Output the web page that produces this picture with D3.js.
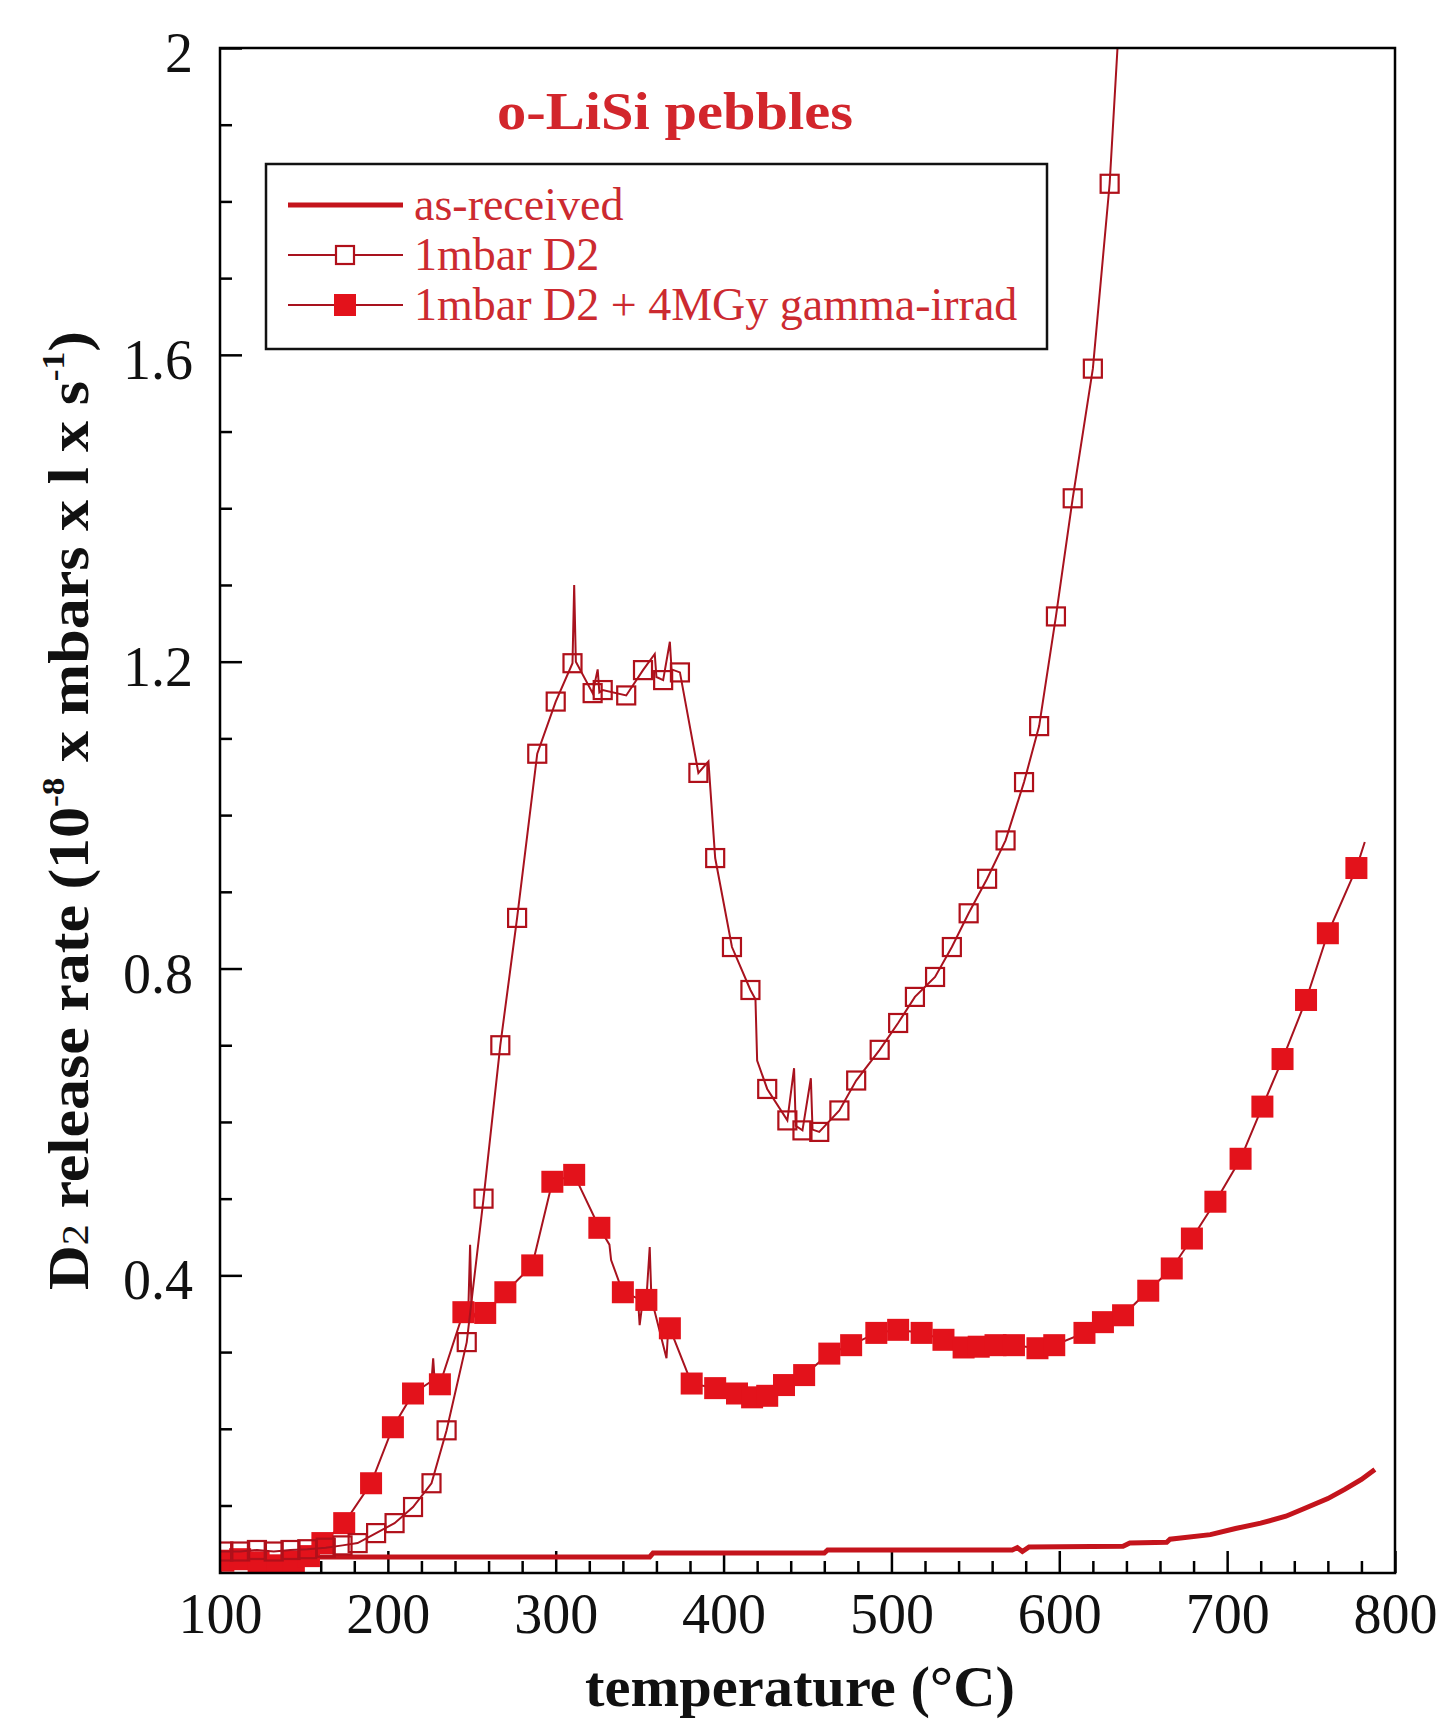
<!DOCTYPE html>
<html>
<head>
<meta charset="utf-8">
<script src="https://cdn.jsdelivr.net/npm/d3@7"></script>
<style>
  body { margin: 0; background: #fff; }
  svg { display: block; font-family: "Liberation Serif", "Times New Roman", serif; }
</style>
</head>
<body>
<svg id="chart"></svg>
<script>
// ---- data ----
var xTickValues = [100, 200, 300, 400, 500, 600, 700, 800];
var yTickValues = [0.4, 0.8, 1.2, 1.6, 2];

// as-received (plain thick line)
var asRecT = [100, 130, 160, 250, 356, 358, 460, 462, 572, 575, 578, 582, 638, 642, 664, 666, 690, 705, 720, 735, 746, 760, 770, 780, 788];
var asRecV = [0.030, 0.031, 0.033, 0.033, 0.033, 0.038, 0.038, 0.042, 0.042, 0.045, 0.040, 0.046, 0.047, 0.051, 0.052, 0.056, 0.062, 0.070, 0.077, 0.086, 0.096, 0.109, 0.121, 0.134, 0.147];

// 1mbar D2 (open squares)
var d2T = [102, 112, 122, 132, 142, 152, 163, 173, 182, 193, 204, 215, 226, 235, 247, 257, 267, 277, 289, 300, 310, 322, 328, 342, 352, 364, 374, 385, 395, 405, 416, 426, 438, 447, 457, 469, 479, 493, 504, 514, 526, 536, 546, 557, 568, 579, 588, 598, 608, 620, 630];
var d2V = [0.040, 0.040, 0.042, 0.040, 0.042, 0.043, 0.045, 0.048, 0.051, 0.064, 0.077, 0.098, 0.129, 0.198, 0.313, 0.500, 0.700, 0.866, 1.080, 1.148, 1.198, 1.159, 1.163, 1.156, 1.189, 1.176, 1.186, 1.055, 0.944, 0.828, 0.772, 0.643, 0.602, 0.589, 0.587, 0.615, 0.654, 0.694, 0.729, 0.763, 0.789, 0.828, 0.872, 0.917, 0.967, 1.043, 1.116, 1.259, 1.413, 1.582, 1.823];
// extra raw points of the D2 trace (noise spikes, ends) drawn by the line only
var d2SpikeT = [100, 311, 312, 325, 326, 359, 360, 368, 369, 391, 419, 420, 442, 443, 452, 453, 636];
var d2SpikeV = [0.040, 1.300, 1.200, 1.190, 1.160, 1.210, 1.180, 1.226, 1.190, 1.070, 0.760, 0.680, 0.670, 0.595, 0.657, 0.590, 2.050];

// 1mbar D2 + 4MGy gamma-irrad (filled squares)
var irrT = [102, 112, 123, 134, 144, 153, 161, 174, 190, 203, 215, 231, 245, 258, 270, 286, 298, 311, 326, 340, 354, 368, 381, 395, 408, 417, 426, 436, 448, 463, 476, 491, 504, 518, 531, 543, 552, 562, 573, 587, 597, 615, 626, 638, 653, 667, 679, 693, 708, 721, 733, 747, 760, 777];
var irrV = [0.028, 0.030, 0.026, 0.022, 0.027, 0.034, 0.051, 0.077, 0.129, 0.202, 0.246, 0.258, 0.352, 0.351, 0.378, 0.413, 0.522, 0.531, 0.462, 0.378, 0.368, 0.331, 0.259, 0.253, 0.246, 0.241, 0.243, 0.257, 0.270, 0.298, 0.309, 0.325, 0.329, 0.325, 0.316, 0.306, 0.307, 0.309, 0.309, 0.305, 0.309, 0.325, 0.339, 0.348, 0.380, 0.409, 0.448, 0.496, 0.552, 0.620, 0.682, 0.759, 0.846, 0.931];
var irrSpikeT = [100, 226, 227, 228, 248, 249, 250, 252, 332, 333, 349, 350, 352, 356, 357, 366, 367, 782];
var irrSpikeV = [0.030, 0.262, 0.292, 0.258, 0.360, 0.440, 0.340, 0.350, 0.440, 0.420, 0.370, 0.335, 0.370, 0.437, 0.370, 0.292, 0.330, 0.965];

var legendLabels = ["as-received", "1mbar D2", "1mbar D2 + 4MGy gamma-irrad"];

// ---- layout ----
var width = 1437, height = 1719;
var margin = {top: 48, right: 42, bottom: 146, left: 220};
var plotW = width - margin.left - margin.right,
    plotH = height - margin.top - margin.bottom;

var lineRed = "#a8121e", fillRed = "#e3121b", openRed = "#b0101a", asRed = "#c4141c";

var svg = d3.select("#chart")
    .attr("width", width)
    .attr("height", height);

var g = svg.append("g")
    .attr("transform", "translate(" + margin.left + "," + margin.top + ")");

var x = d3.scaleLinear().domain([100, 800]).range([0, plotW]);
var y = d3.scaleLinear().domain([0.012, 2]).range([plotH, 0]);

function zip(ts, vs) {
    return ts.map(function (t, i) { return {t: t, v: vs[i]}; });
}
function traceOf(ts, vs, sts, svs) {
    return zip(ts, vs).concat(zip(sts, svs)).sort(function (a, b) { return a.t - b.t; });
}

// the original lettering is a bit wider than Liberation Serif: stretch a text to a given width
function stretchTo(sel, baseTransform, targetWidth) {
    var len = sel.node().getComputedTextLength();
    sel.attr("transform", baseTransform + " scale(" + (targetWidth / len) + ",1)");
}

var asRec = zip(asRecT, asRecV);
var d2Marks = zip(d2T, d2V);
var d2Trace = traceOf(d2T, d2V, d2SpikeT, d2SpikeV);
var irrMarks = zip(irrT, irrV);
var irrTrace = traceOf(irrT, irrV, irrSpikeT, irrSpikeV);

svg.append("defs").append("clipPath")
    .attr("id", "plotClip")
    .append("rect")
    .attr("width", plotW)
    .attr("height", plotH);

// ---- axes ----
var minorX = d3.range(100, 801, 20).filter(function (d) { return d % 100 !== 0; });
var minorY = d3.range(1, 20).map(function (d) { return d / 10; }).filter(function (d) { return Math.round(d * 10) % 4 !== 0; });

g.append("g")
    .attr("class", "x axis")
    .attr("transform", "translate(0," + plotH + ")")
    .call(d3.axisBottom(x).tickValues(xTickValues).tickSize(-22).tickPadding(20).tickFormat(d3.format("d")));

g.append("g")
    .attr("class", "x minor")
    .attr("transform", "translate(0," + plotH + ")")
    .call(d3.axisBottom(x).tickValues(minorX).tickSize(-12).tickFormat(""));

g.append("g")
    .attr("class", "y axis")
    .call(d3.axisLeft(y).tickValues(yTickValues).tickSize(-22).tickPadding(27).tickFormat(function (d) { return d; }));

g.append("g")
    .attr("class", "y minor")
    .call(d3.axisLeft(y).tickValues(minorY).tickSize(-12).tickFormat(""));

g.selectAll(".axis path, .minor path").remove();
g.selectAll(".axis line, .minor line").attr("stroke", "#000").attr("stroke-width", 2.5);
g.selectAll(".axis text")
    .attr("fill", "#111")
    .style("font-family", "Liberation Serif")
    .style("font-size", "56px");
g.selectAll(".y.axis text").attr("dy", "0.42em");

// ---- series ----
var line = d3.line()
    .x(function (d) { return x(d.t); })
    .y(function (d) { return y(d.v); });

var plot = g.append("g").attr("clip-path", "url(#plotClip)");

plot.append("path")
    .datum(asRec)
    .attr("fill", "none")
    .attr("stroke", asRed)
    .attr("stroke-width", 5)
    .attr("d", line);

plot.append("path")
    .datum(irrTrace)
    .attr("fill", "none")
    .attr("stroke", lineRed)
    .attr("stroke-width", 2)
    .attr("d", line);

plot.selectAll(".irr")
    .data(irrMarks)
    .enter().append("rect")
    .attr("class", "irr")
    .attr("x", function (d) { return x(d.t) - 11; })
    .attr("y", function (d) { return y(d.v) - 11; })
    .attr("width", 22)
    .attr("height", 22)
    .attr("fill", fillRed);

plot.append("path")
    .datum(d2Trace)
    .attr("fill", "none")
    .attr("stroke", lineRed)
    .attr("stroke-width", 2)
    .attr("d", line);

plot.selectAll(".d2")
    .data(d2Marks)
    .enter().append("rect")
    .attr("class", "d2")
    .attr("x", function (d) { return x(d.t) - 9; })
    .attr("y", function (d) { return y(d.v) - 9; })
    .attr("width", 18)
    .attr("height", 18)
    .attr("fill", "none")
    .attr("stroke", openRed)
    .attr("stroke-width", 2.2);

// frame
g.append("rect")
    .attr("width", plotW)
    .attr("height", plotH)
    .attr("fill", "none")
    .attr("stroke", "#000")
    .attr("stroke-width", 2.5);

// ---- title inside the plot ----
var title = svg.append("text")
    .attr("text-anchor", "middle")
    .attr("fill", "#d2262c")
    .style("font-weight", "bold")
    .style("font-size", "52px")
    .text("o-LiSi pebbles");
stretchTo(title, "translate(675,129)", 356);

// ---- legend ----
var legend = svg.append("g").attr("class", "legend");

legend.append("rect")
    .attr("x", 266)
    .attr("y", 164)
    .attr("width", 781)
    .attr("height", 185)
    .attr("fill", "#fff")
    .attr("stroke", "#111")
    .attr("stroke-width", 2.5);

var rowY = [205, 255, 305];

legendLabels.forEach(function (label, i) {
    var row = legend.append("g").attr("transform", "translate(0," + rowY[i] + ")");
    row.append("line")
        .attr("x1", 288).attr("x2", 403)
        .attr("stroke", i === 0 ? asRed : lineRed)
        .attr("stroke-width", i === 0 ? 5 : 2);
    if (i === 1) {
        row.append("rect")
            .attr("x", 336).attr("y", -9).attr("width", 18).attr("height", 18)
            .attr("fill", "#fff").attr("stroke", openRed).attr("stroke-width", 2.2);
    }
    if (i === 2) {
        row.append("rect")
            .attr("x", 334).attr("y", -11).attr("width", 22).attr("height", 22)
            .attr("fill", fillRed);
    }
    row.append("text")
        .attr("x", 414)
        .attr("dy", "0.33em")
        .attr("fill", "#cc2a30")
        .style("font-size", "46px")
        .text(label);
});

// ---- axis titles ----
var xTitle = svg.append("text")
    .attr("text-anchor", "middle")
    .attr("fill", "#111")
    .style("font-weight", "bold")
    .style("font-size", "56px")
    .text("temperature (\u00b0C)");
stretchTo(xTitle, "translate(800,1706)", 430);

var yTitle = svg.append("text")
    .attr("text-anchor", "middle")
    .attr("fill", "#111")
    .style("font-weight", "bold")
    .style("font-size", "56px");

// superscripts raised and lowered by the same number of pixels
yTitle.append("tspan").text("D");
yTitle.append("tspan").style("font-size", "38px").style("font-weight", "normal").text("2");
yTitle.append("tspan").text(" release rate (10");
yTitle.append("tspan").attr("dy", -24).style("font-size", "32px").text("-8");
yTitle.append("tspan").attr("dy", 24).text(" x mbars x l x s");
yTitle.append("tspan").attr("dy", -24).style("font-size", "32px").text("-1");
yTitle.append("tspan").attr("dy", 24).text(")");
stretchTo(yTitle, "translate(88," + (margin.top + plotH / 2) + ") rotate(-90)", 959);
</script>
</body>
</html>
